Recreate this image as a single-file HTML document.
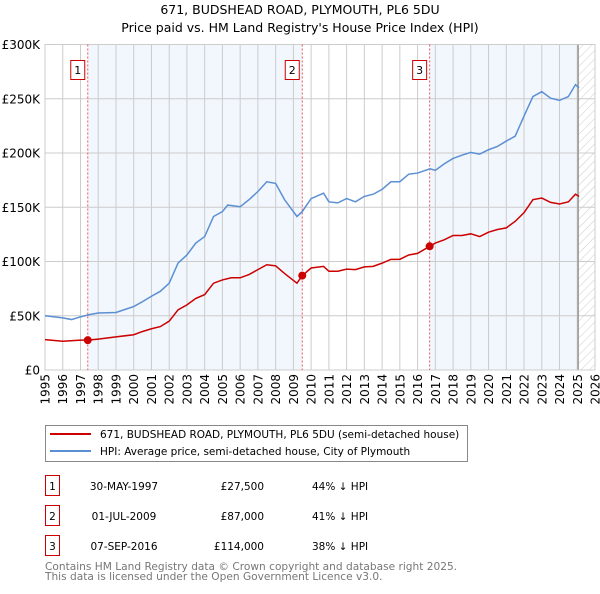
<!DOCTYPE html>
<html><head><meta charset="utf-8">
<style>
body{margin:0;background:#fff;font-family:"DejaVu Sans","Liberation Sans",sans-serif;}
svg text{font-family:"DejaVu Sans","Liberation Sans",sans-serif;}
</style></head>
<body>
<svg id="chart" width="600" height="590" viewBox="0 0 600 590" xmlns="http://www.w3.org/2000/svg">
<defs>
<pattern id="hatch" patternUnits="userSpaceOnUse" width="6" height="6" patternTransform="rotate(45)">
<line x1="0" y1="0" x2="0" y2="6" stroke="#ccc" stroke-width="1"/>
</pattern>
</defs>
<text x="300" y="14" text-anchor="middle" font-size="12.5">671, BUDSHEAD ROAD, PLYMOUTH, PL6 5DU</text>
<text x="300" y="32" text-anchor="middle" font-size="12.5">Price paid vs. HM Land Registry's House Price Index (HPI)</text>
<g id="plot"></g>
<g>
<rect x="45.5" y="425.5" width="422" height="36" fill="#fff" stroke="#888"/>
<line x1="50" y1="434" x2="91" y2="434" stroke="#cc0000" stroke-width="2"/>
<text x="100" y="438" font-size="10.5">671, BUDSHEAD ROAD, PLYMOUTH, PL6 5DU (semi-detached house)</text>
<line x1="50" y1="451" x2="91" y2="451" stroke="#5b8fd4" stroke-width="2"/>
<text x="100" y="455" font-size="10.5">HPI: Average price, semi-detached house, City of Plymouth</text>
</g>
<g id="table" font-size="10.5"></g>
<text x="45" y="570" font-size="10.6" fill="#777">Contains HM Land Registry data © Crown copyright and database right 2025.</text>
<text x="45" y="580" font-size="10.6" fill="#777">This data is licensed under the Open Government Licence v3.0.</text>
</svg>
<script>
const hpiYears=[1995,1996,1996.5,1997,1997.5,1998,1999,2000,2000.5,2001,2001.5,2002,2002.5,2003,2003.5,2004,2004.5,2005,2005.3,2006,2006.5,2007,2007.5,2008,2008.5,2009.2,2009.5,2010,2010.7,2011,2011.5,2012,2012.5,2013,2013.5,2014,2014.5,2015,2015.5,2016,2016.7,2017,2017.5,2018,2018.5,2019,2019.5,2020,2020.5,2021,2021.5,2022,2022.5,2023,2023.5,2024,2024.5,2024.9,2025.1];
const hpiValues=[50,48,46.5,49,51,52.5,53,58.5,63,68,72.5,80,98.5,106,117,123,141.5,146,152,150.5,157,164.5,173.5,172,157,141.5,146,158,163,155,154,158,155,160,162,166.5,173.5,173.5,180.5,181.5,185.5,184,190,195,198,200.5,199,203,206,211,215.5,234,252,256.5,250.5,248.5,252,263,260];
const priceYears=[1995,1996,1997,1997.41,1998,1999,2000,2000.5,2001,2001.5,2002,2002.5,2003,2003.5,2004,2004.5,2005,2005.5,2006,2006.5,2007,2007.5,2008,2008.5,2009.2,2009.5,2010,2010.7,2011,2011.5,2012,2012.5,2013,2013.5,2014,2014.5,2015,2015.5,2016,2016.68,2017,2017.5,2018,2018.5,2019,2019.5,2020,2020.5,2021,2021.5,2022,2022.5,2023,2023.5,2024,2024.5,2024.9,2025.1];
const priceValues=[28,26.5,27.5,27.5,28.5,30.5,32.5,35.5,38,40,45,55.5,60,66,69.5,80,83,85,85,88,92.5,97,96,89,80,87,94,95.5,91,91,93,92.5,95,95.5,98.5,102,102,106,107.5,114,117,120,124,124,125.5,123,127,129.5,131,137,145,157,158.5,154.5,153,155,162,160];
const saleYears=[1997.41,2009.5,2016.68];
const saleValues=[27.5,87,114];
const saleLabels=["1","2","3"];
const saleDates=["30-MAY-1997","01-JUL-2009","07-SEP-2016"];
const salePrices=["£27,500","£87,000","£114,000"];
const salePct=["44% ↓ HPI","41% ↓ HPI","38% ↓ HPI"];
const yTicks=[0,50,100,150,200,250,300];
const yTickLabels=["£0","£50K","£100K","£150K","£200K","£250K","£300K"];
const xTicks=[];for(let y=1995;y<=2026;y++)xTicks.push(y);

const X0=45,X1=595,Y0=370,Y1=44.5;
const xs=y=>X0+(y-1995)/31*(X1-X0);
const ys=v=>Y0-v/300*(Y0-Y1);
const NS="http://www.w3.org/2000/svg";
const plot=document.getElementById('plot');
function mk(tag,attrs,parent){const e=document.createElementNS(NS,tag);for(const k in attrs)e.setAttribute(k,attrs[k]);(parent||plot).appendChild(e);return e;}

let r;
r=mk('rect',{x:X0,y:Y1,width:X1-X0,height:Y0-Y1,fill:'#fff'});


r=mk('rect',{x:xs(saleYears[0]),y:Y1,width:xs(saleYears[1])-xs(saleYears[0]),height:Y0-Y1,fill:'#f2f6fd'});


r=mk('rect',{x:xs(saleYears[2]),y:Y1,width:xs(2025.05)-xs(saleYears[2]),height:Y0-Y1,fill:'#f2f6fd'});


r=mk('rect',{x:xs(2025.05),y:Y1,width:X1-xs(2025.05),height:Y0-Y1,fill:'url(#hatch)'});



xTicks.forEach(t=>{
 const g=mk('line',{x1:xs(t),x2:xs(t),y1:Y1,y2:Y0,stroke:'#ccc','stroke-width':1});
 
 
 const tx=mk('text',{x:0,y:0,'font-size':12,'text-anchor':'end',transform:`translate(${xs(t)+4.5},374) rotate(-90)`});
 tx.textContent=t;
 
 
});
yTicks.forEach((t,i)=>{
 const g=mk('line',{x1:X0,x2:X1,y1:ys(t),y2:ys(t),stroke:'#ccc','stroke-width':1});
 
 
 const tx=mk('text',{x:40,y:ys(t)+4.5,'font-size':12,'text-anchor':'end'});
 tx.textContent=yTickLabels[i];
 
 
});
r=mk('line',{x1:xs(2025.05),x2:xs(2025.05),y1:Y1,y2:Y0,stroke:'#999','stroke-width':1.5});


r=mk('rect',{x:X0,y:Y1,width:X1-X0,height:Y0-Y1,fill:'none',stroke:'#ccc'});



saleYears.forEach((s,i)=>{
 const l=mk('line',{x1:xs(s),x2:xs(s),y1:Y1,y2:Y0,stroke:'#e55','stroke-width':1,'stroke-dasharray':'2,2'});
 
 
 const bx=mk('rect',{x:xs(s)-17,y:60.5,width:14,height:19,fill:'#fff',stroke:'#cc0000'});
 
 
 const t=mk('text',{x:xs(s)-10,y:74,'font-size':11,'text-anchor':'middle'});
 t.textContent=saleLabels[i];
 
 
});

const hp=mk('polyline',{points:hpiYears.map((y,i)=>xs(y)+','+ys(hpiValues[i])).join(' '),fill:'none',stroke:'#5b8fd4','stroke-width':1.5});


const pp=mk('polyline',{points:priceYears.map((y,i)=>xs(y)+','+ys(priceValues[i])).join(' '),fill:'none',stroke:'#cc0000','stroke-width':1.5});


saleYears.forEach((s,i)=>{
 const c=mk('circle',{cx:xs(s),cy:ys(saleValues[i]),r:4,fill:'#cc0000'});
 
 
});

const tb=document.getElementById('table');
saleYears.forEach((s,i)=>{
 const yy=475+i*30;
 const b=mk('rect',{x:45.5,y:yy+0.5,width:14,height:20,fill:'#fff',stroke:'#cc0000'},tb);
 
 
 const t0=mk('text',{x:52.5,y:yy+15,'text-anchor':'middle'},tb);t0.textContent=saleLabels[i];
 
 
 const t1=mk('text',{x:124,y:yy+15,'text-anchor':'middle'},tb);t1.textContent=saleDates[i];
 
 
 const t2=mk('text',{x:264,y:yy+15,'text-anchor':'end'},tb);t2.textContent=salePrices[i];
 
 
 const t3=mk('text',{x:312,y:yy+15},tb);t3.textContent=salePct[i];
 
 
});
</script>
</body></html>
